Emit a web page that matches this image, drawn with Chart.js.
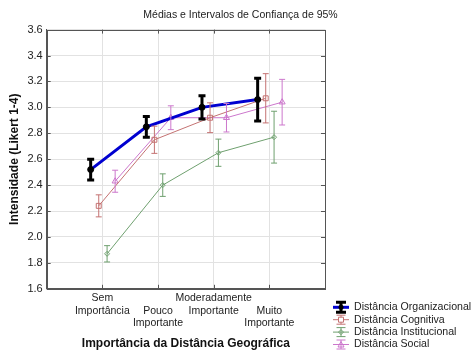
<!DOCTYPE html>
<html><head><meta charset="utf-8">
<script src="https://cdn.jsdelivr.net/npm/chart.js@4"></script>
<style>html,body{margin:0;padding:0;background:#fff}</style>
</head><body>
<canvas id="c" width="474" height="355"></canvas>
<script>
// ---- data ----
const categories = [["Sem","Importância"], ["","Pouco","Importante"], ["Moderadamente","Importante"], ["","Muito","Importante"]];
const seriesNames = ["Distância Organizacional","Distância Cognitiva","Distância Institucional","Distância Social"];
const orgMean  = [2.52, 2.85, 3.00, 3.06];
const orgErr   = [0.08, 0.08, 0.09, 0.165];
const cogMean  = [2.24, 2.75, 2.92, 3.07];
const cogErr   = [0.085, 0.105, 0.115, 0.19];
const instMean = [1.87, 2.40, 2.65, 2.77];
const instErr  = [0.063, 0.087, 0.105, 0.20];
const socMean  = [2.43, 2.92, 2.92, 3.04];
const socErr   = [0.085, 0.092, 0.11, 0.176];
const yTickValues = [1.6, 1.8, 2.0, 2.2, 2.4, 2.6, 2.8, 3.0, 3.2, 3.4, 3.6];

// ---- styles ----
const FONT = "'Liberation Sans', Arial, sans-serif";
const means = [orgMean, cogMean, instMean, socMean];
const errs = [orgErr, cogErr, instErr, socErr];
const xShift = [-0.21, -0.065, 0.085, 0.23];
const lineColors = ['#0000d0', '#c47272', '#6fa06f', '#cc77cc'];
const errColors = ['#000000', '#c47272', '#6fa06f', '#cc77cc'];
const lineWidths = [3, 1, 1, 1];
const errWidths = [3, 1, 1, 1];
const capHalf = [3.5, 3, 3, 3];
const pStyles = ['circle', 'rect', 'rectRot', 'triangle'];
const pRadius = [3, 3.5, 2.5, 3.5];
const pFill = ['#000000', 'rgba(0,0,0,0)', 'rgba(0,0,0,0)', 'rgba(0,0,0,0)'];
const pBorder = ['#000000', '#c47272', '#6fa06f', '#cc77cc'];

const datasets = means.map((m, i) => ({
  label: seriesNames[i],
  data: m.map((v, j) => ({x: j + 1 + xShift[i], y: v})),
  showLine: true,
  borderColor: lineColors[i],
  borderWidth: lineWidths[i],
  pointStyle: pStyles[i],
  pointRadius: pRadius[i],
  pointBackgroundColor: pFill[i],
  pointBorderColor: pBorder[i],
  pointBorderWidth: 1,
  tension: 0
}));

function drawGlyph(g, i, cx, cy) {
  g.save();
  g.strokeStyle = lineColors[i]; g.lineWidth = lineWidths[i];
  g.beginPath(); g.moveTo(cx - 8, cy); g.lineTo(cx + 8, cy); g.stroke();
  g.strokeStyle = errColors[i]; g.lineWidth = errWidths[i];
  const h = i === 0 ? 5 : 4.5, w = capHalf[i] + 1.5;
  g.beginPath(); g.moveTo(cx, cy - h); g.lineTo(cx, cy + h);
  g.moveTo(cx - w, cy - h); g.lineTo(cx + w, cy - h);
  g.moveTo(cx - w, cy + h); g.lineTo(cx + w, cy + h);
  g.stroke();
  g.strokeStyle = pBorder[i]; g.fillStyle = pFill[i]; g.lineWidth = 1;
  g.beginPath();
  if (i === 0) { g.arc(cx, cy, 2.5, 0, Math.PI * 2); g.fill(); }
  else if (i === 1) { g.fillStyle = '#fff'; g.rect(cx - 2.5, cy - 2.5, 5, 5); g.fill(); g.stroke(); }
  else if (i === 2) { g.moveTo(cx, cy - 2.5); g.lineTo(cx + 2.5, cy); g.lineTo(cx, cy + 2.5); g.lineTo(cx - 2.5, cy); g.closePath(); g.stroke(); }
  else { g.moveTo(cx, cy - 3); g.lineTo(cx + 3, cy + 2.5); g.lineTo(cx - 3, cy + 2.5); g.closePath(); g.stroke(); }
  g.restore();
}

const errorBars = {
  id: 'errorBars',
  afterDatasetsDraw(chart) {
    const ctx = chart.ctx, xs = chart.scales.x, ys = chart.scales.y;
    ctx.save();
    for (let i = means.length - 1; i >= 0; i--) {
      ctx.strokeStyle = errColors[i];
      ctx.lineWidth = errWidths[i];
      means[i].forEach((v, j) => {
        const x = xs.getPixelForValue(j + 1 + xShift[i]);
        const yt = ys.getPixelForValue(v + errs[i][j]);
        const yb = ys.getPixelForValue(v - errs[i][j]);
        ctx.beginPath();
        ctx.moveTo(x, yt); ctx.lineTo(x, yb);
        ctx.moveTo(x - capHalf[i], yt); ctx.lineTo(x + capHalf[i], yt);
        ctx.moveTo(x - capHalf[i], yb); ctx.lineTo(x + capHalf[i], yb);
        ctx.stroke();
      });
    }
    ctx.restore();
  }
};
const frame = {
  id: 'frame',
  beforeDatasetsDraw(chart) {
    const a = chart.chartArea, ctx = chart.ctx;
    ctx.save(); ctx.strokeStyle = '#555'; ctx.lineWidth = 1;
    ctx.strokeRect(Math.round(a.left) + 0.5, Math.round(a.top) + 0.5, Math.round(a.right - a.left), Math.round(a.bottom - a.top));
    ctx.beginPath();
    const xs = chart.scales.x, ys = chart.scales.y;
    [1, 2, 3, 4].forEach(v => { const x = Math.round(xs.getPixelForValue(v)) + 0.5; ctx.moveTo(x, a.bottom); ctx.lineTo(x, a.bottom - 4); ctx.moveTo(x, a.top); ctx.lineTo(x, a.top + 4); });
    yTickValues.forEach(v => { const y = Math.round(ys.getPixelForValue(v)) + 0.5; ctx.moveTo(a.left, y); ctx.lineTo(a.left + 4, y); ctx.moveTo(a.right, y); ctx.lineTo(a.right - 4, y); });
    ctx.stroke();
    ctx.restore();
  }
};
const legendBox = {
  id: 'legendBox',
  afterDraw(chart) {
    const ctx = chart.ctx, a = chart.chartArea;
    ctx.save();
    ctx.font = "10.6px " + FONT; ctx.fillStyle = '#222';
    ctx.textBaseline = 'middle'; ctx.textAlign = 'left';
    seriesNames.forEach((n, i) => {
      const cy = a.bottom + 18.5 + i * 12.4;
      drawGlyph(ctx, i, a.right + 16, cy);
      ctx.fillText(n, a.right + 29, cy);
    });
    ctx.restore();
  }
};

new Chart(document.getElementById('c'), {
  type: 'scatter',
  data: {datasets},
  plugins: [errorBars, frame, legendBox],
  options: {
    responsive: false, animation: false, devicePixelRatio: 1,
    layout: {padding: {left: 7, right: 0, top: 2, bottom: 4}},
    plugins: {
      tooltip: {enabled: false},
      legend: {display: false},
      title: {display: true, text: 'Médias e Intervalos de Confiança de 95%', color: '#222',
        font: {family: FONT, size: 10.5, weight: 'normal'}, padding: {top: 7, bottom: 8}}
    },
    scales: {
      x: {
        type: 'linear', min: 0, max: 5,
        afterBuildTicks: (ax) => { ax.ticks = [0, 1, 2, 3, 4, 5].map(v => ({value: v})); },
        ticks: {callback: (v) => categories[v - 1] || '', color: '#222', font: {family: FONT, size: 10.5}, maxRotation: 0, autoSkip: false, padding: 3},
        grid: {color: '#e2e2e2', drawTicks: false},
        border: {display: true, color: '#555'},
        title: {display: true, text: 'Importância da Distância Geográfica', color: '#111', font: {family: FONT, size: 12, weight: 'bold'}, padding: {top: 4, bottom: 0}}
      },
      y: {
        min: 1.6, max: 3.6,
        afterBuildTicks: (ax) => { ax.ticks = yTickValues.map(v => ({value: v})); },
        ticks: {callback: (v) => v.toFixed(1), color: '#222', font: {family: FONT, size: 11}, padding: 4},
        grid: {color: '#e2e2e2', drawTicks: false},
        border: {display: true, color: '#555'},
        title: {display: true, text: 'Intensidade (Likert 1-4)', color: '#111', font: {family: FONT, size: 12, weight: 'bold'}, padding: {top: 0, bottom: 2}}
      },
      yRight: {
        position: 'right', min: 1.6, max: 3.6,
        ticks: {display: false},
        grid: {display: false, drawOnChartArea: false},
        border: {display: false},
        afterFit: (ax) => { ax.width = 149; }
      }
    }
  }
});
</script>
</body></html>
